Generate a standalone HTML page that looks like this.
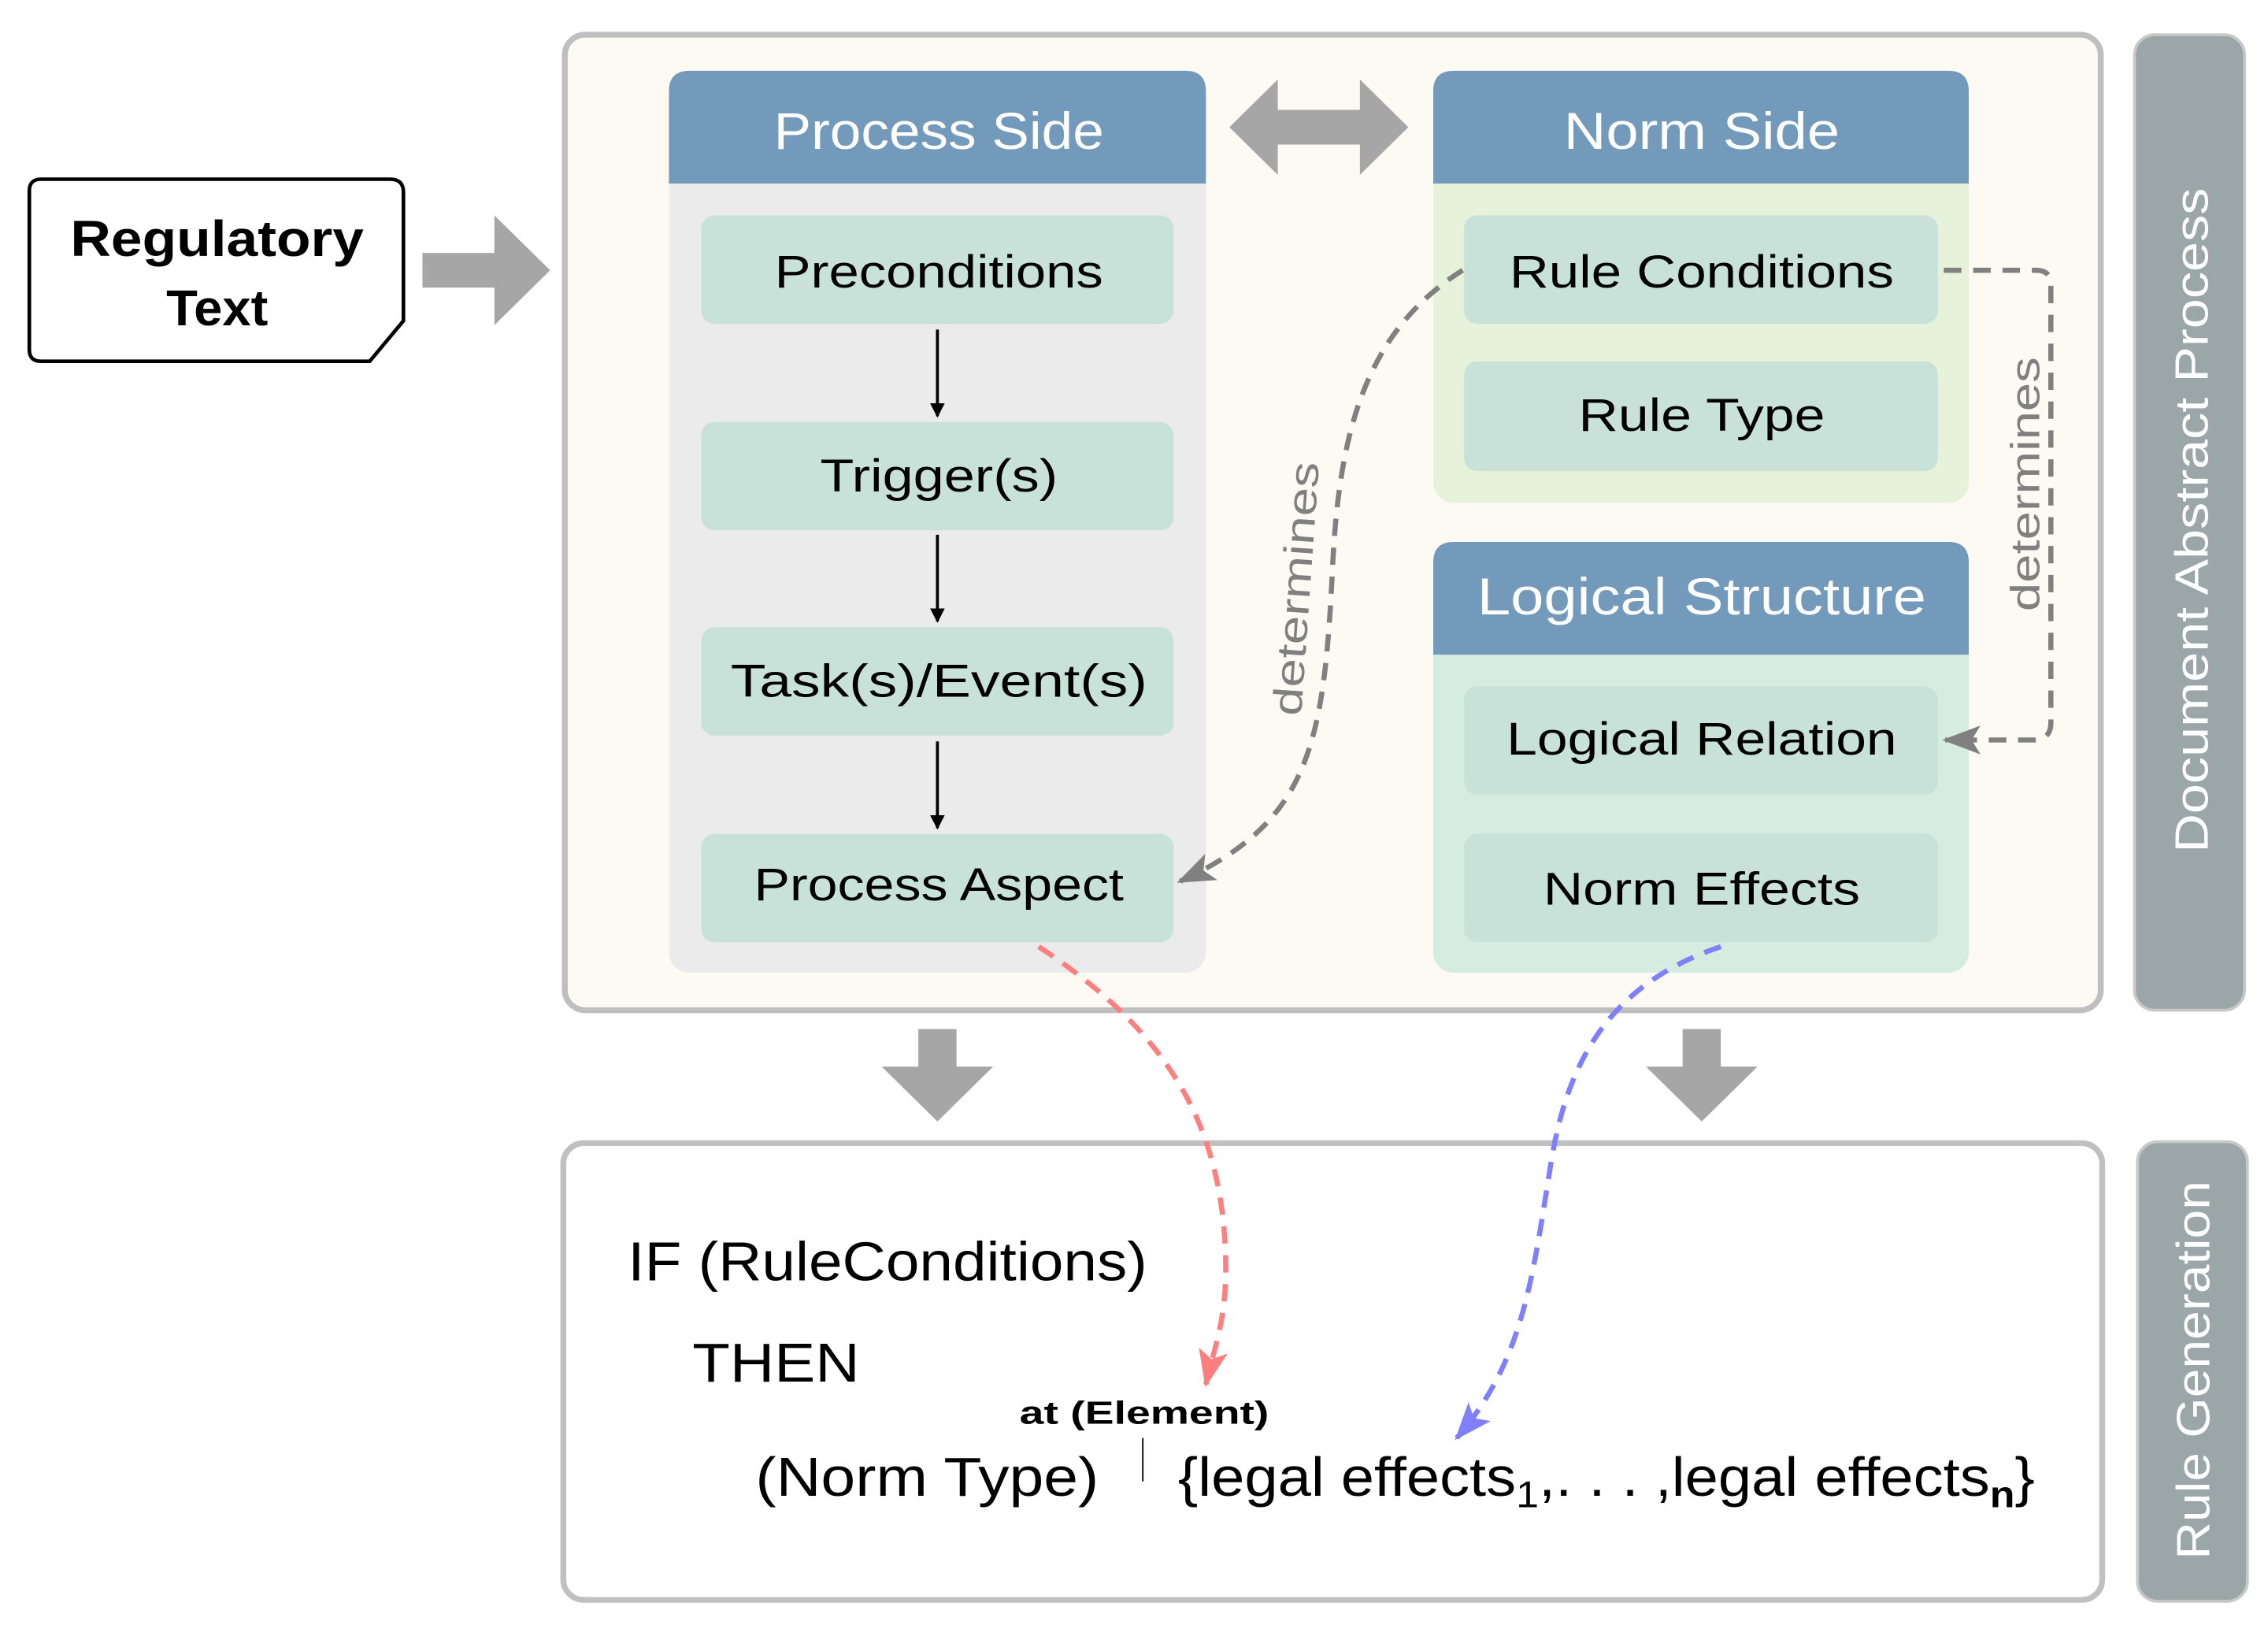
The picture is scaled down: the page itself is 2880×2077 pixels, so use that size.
<!DOCTYPE html>
<html><head><meta charset="utf-8"><style>
html,body{margin:0;padding:0;background:#fff;}
svg{display:block;}
text{font-family:"Liberation Sans",sans-serif;}
</style></head><body>
<svg width="2880" height="2077" viewBox="0 0 1546 1132" preserveAspectRatio="none" xmlns="http://www.w3.org/2000/svg">
<defs>
<marker id="ab" markerWidth="10" markerHeight="10" refX="9" refY="5" orient="auto" markerUnits="userSpaceOnUse"><path d="M0,0 L10,5 L0,10 Z" fill="#000"/></marker>
<marker id="ag" markerWidth="26" markerHeight="20" refX="24" refY="10" orient="auto" markerUnits="userSpaceOnUse"><path d="M0,0 L26,10 L0,20 L6,10 Z" fill="#808080"/></marker>
<marker id="ar" markerWidth="26" markerHeight="20" refX="24" refY="10" orient="auto" markerUnits="userSpaceOnUse"><path d="M0,0 L26,10 L0,20 L6,10 Z" fill="#ff7f7f"/></marker>
<marker id="abl" markerWidth="26" markerHeight="20" refX="24" refY="10" orient="auto" markerUnits="userSpaceOnUse"><path d="M0,0 L26,10 L0,20 L6,10 Z" fill="#7f7fff"/></marker>
</defs>

<!-- Regulatory text box -->
<path d="M28,124 H266 Q275,124 275,133 V222 L252,250 H28 Q20,250 20,242 V132 Q20,124 28,124 Z" fill="#fff" stroke="#000" stroke-width="2.5"/>
<text x="148" y="177" font-size="35" font-weight="bold" text-anchor="middle" textLength="200" lengthAdjust="spacingAndGlyphs">Regulatory</text>
<text x="148" y="225" font-size="35" font-weight="bold" text-anchor="middle">Text</text>
<path d="M288,175 H337 V149 L375,187 L337,225 V199 H288 Z" fill="#a6a6a6"/>

<!-- Main box -->
<rect x="385" y="24" width="1047" height="675" rx="14" fill="#fdf9f3" stroke="#bfbfbf" stroke-width="4"/>

<!-- Process side -->
<rect x="456" y="49" width="366" height="624" rx="14" fill="#ebebeb"/>
<path d="M456,127 V63 Q456,49 470,49 H808 Q822,49 822,63 V127 Z" fill="#7399bb"/>
<text x="640" y="103" font-size="36" fill="#fff" text-anchor="middle" textLength="225" lengthAdjust="spacingAndGlyphs">Process Side</text>
<g fill="#c9e2d9">
<rect x="478" y="149" width="322" height="75" rx="9"/>
<rect x="478" y="292" width="322" height="75" rx="9"/>
<rect x="478" y="434" width="322" height="75" rx="9"/>
<rect x="478" y="577" width="322" height="75" rx="9"/>
</g>
<g font-size="32" text-anchor="middle" fill="#000">
<text x="640" y="199" textLength="224" lengthAdjust="spacingAndGlyphs">Preconditions</text>
<text x="640" y="340" textLength="162" lengthAdjust="spacingAndGlyphs">Trigger(s)</text>
<text x="640" y="482" textLength="284" lengthAdjust="spacingAndGlyphs">Task(s)/Event(s)</text>
<text x="640" y="623" textLength="252" lengthAdjust="spacingAndGlyphs">Process Aspect</text>
</g>
<g stroke="#000" stroke-width="2" marker-end="url(#ab)">
<line x1="639" y1="228" x2="639" y2="288"/>
<line x1="639" y1="370" x2="639" y2="430"/>
<line x1="639" y1="513" x2="639" y2="573"/>
</g>

<!-- double arrow -->
<path d="M838,88 L871,55 V76 H927 V55 L960,88 L927,121 V100 H871 V121 Z" fill="#a6a6a6"/>

<!-- Norm side -->
<rect x="977" y="49" width="365" height="299" rx="14" fill="#e6f2da"/>
<path d="M977,127 V63 Q977,49 991,49 H1328 Q1342,49 1342,63 V127 Z" fill="#7399bb"/>
<text x="1160" y="103" font-size="36" fill="#fff" text-anchor="middle" textLength="188" lengthAdjust="spacingAndGlyphs">Norm Side</text>
<rect x="998" y="149" width="323" height="75" rx="9" fill="#c9e2d9"/>
<rect x="998" y="250" width="323" height="76" rx="9" fill="#c9e2d9"/>
<text x="1160" y="199" font-size="32" text-anchor="middle" textLength="262" lengthAdjust="spacingAndGlyphs">Rule Conditions</text>
<text x="1160" y="298" font-size="32" text-anchor="middle" textLength="168" lengthAdjust="spacingAndGlyphs">Rule Type</text>

<!-- Logical structure -->
<rect x="977" y="375" width="365" height="298" rx="14" fill="#d4ede0"/>
<path d="M977,453 V389 Q977,375 991,375 H1328 Q1342,375 1342,389 V453 Z" fill="#7399bb"/>
<text x="1160" y="425" font-size="36" fill="#fff" text-anchor="middle" textLength="306" lengthAdjust="spacingAndGlyphs">Logical Structure</text>
<rect x="998" y="475" width="323" height="75" rx="9" fill="#c9e2d9"/>
<rect x="998" y="577" width="323" height="75" rx="9" fill="#c9e2d9"/>
<text x="1160" y="522" font-size="32" text-anchor="middle" textLength="266" lengthAdjust="spacingAndGlyphs">Logical Relation</text>
<text x="1160" y="626" font-size="32" text-anchor="middle" textLength="216" lengthAdjust="spacingAndGlyphs">Norm Effects</text>

<!-- determines connectors -->
<path d="M1325,187 H1388 Q1398,187 1398,197 V500 Q1398,512 1386,512 H1326" fill="none" stroke="#808080" stroke-width="3.5" stroke-dasharray="12,8" marker-end="url(#ag)"/>
<text transform="translate(1390,335) rotate(-90)" font-size="28" fill="#808080" text-anchor="middle" textLength="176" lengthAdjust="spacingAndGlyphs">determines</text>
<path d="M997,187 C930,230 912,300 908,400 C902,520 890,570 804,610" fill="none" stroke="#808080" stroke-width="3.5" stroke-dasharray="12,8" marker-end="url(#ag)"/>
<text transform="translate(893,408) rotate(-86)" font-size="28" fill="#808080" text-anchor="middle" textLength="176" lengthAdjust="spacingAndGlyphs">determines</text>

<!-- side bars -->
<rect x="1455" y="24" width="75" height="675" rx="14" fill="#9aa6a8" stroke="#c8c8c8" stroke-width="2"/>
<text transform="translate(1505,360) rotate(-90)" font-size="32" fill="#fff" text-anchor="middle" textLength="460" lengthAdjust="spacingAndGlyphs">Document Abstract Process</text>
<rect x="1457" y="790" width="75" height="318" rx="14" fill="#9aa6a8" stroke="#c8c8c8" stroke-width="2"/>
<text transform="translate(1506,948) rotate(-90)" font-size="32" fill="#fff" text-anchor="middle" textLength="262" lengthAdjust="spacingAndGlyphs">Rule Generation</text>

<!-- down arrows -->
<path d="M626,712 H652 V738 H677 L639,776 L601,738 H626 Z" fill="#a6a6a6"/>
<path d="M1147,712 H1173 V738 H1198 L1160,776 L1122,738 H1147 Z" fill="#a6a6a6"/>

<!-- bottom box -->
<rect x="384" y="791" width="1049" height="316" rx="14" fill="#fff" stroke="#c0c0c0" stroke-width="4"/>
<g font-size="38" fill="#000">
<text x="428" y="886" textLength="354" lengthAdjust="spacingAndGlyphs">IF (RuleConditions)</text>
<text x="472" y="956" textLength="114" lengthAdjust="spacingAndGlyphs">THEN</text>
<text x="515" y="1035" textLength="234" lengthAdjust="spacingAndGlyphs">(Norm Type)</text>
<text x="803" y="1035" textLength="584" lengthAdjust="spacingAndGlyphs">{legal effects<tspan font-size="26" dy="8">1</tspan><tspan dy="-8">,. . . ,legal effects</tspan><tspan font-size="26" dy="8" font-weight="bold">n</tspan><tspan dy="-8">}</tspan></text>
</g>
<text x="695" y="985" font-size="22" font-weight="bold" textLength="170" lengthAdjust="spacingAndGlyphs">at (Element)</text>
<line x1="779" y1="995" x2="779" y2="1025" stroke="#000" stroke-width="1"/>

<!-- colored connectors -->
<path d="M708,655 C790,710 830,770 835,860 C838,910 828,930 822,958" fill="none" stroke="#ff7f7f" stroke-width="3.5" stroke-dasharray="12,8" marker-end="url(#ar)"/>
<path d="M1173,655 C1100,680 1070,730 1058,800 C1045,880 1040,940 993,995" fill="none" stroke="#7f7fff" stroke-width="3.5" stroke-dasharray="12,8" marker-end="url(#abl)"/>
</svg>
</body></html>
